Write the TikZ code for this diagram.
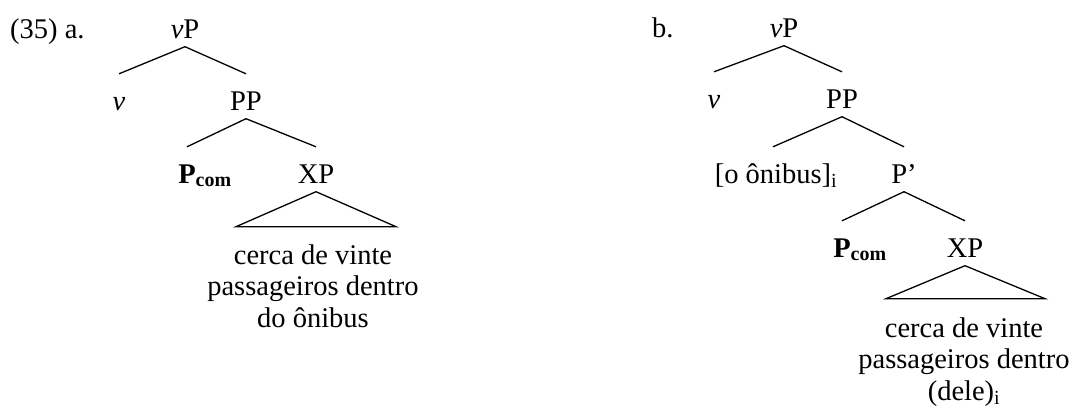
\documentclass[tikz,border=0pt]{standalone}
\usepackage{fontspec}
\setmainfont{Liberation Serif}
\begin{document}
\begin{tikzpicture}[x=1pt,y=-1pt,
  every node/.style={font=\fontsize{28.5}{32}\selectfont},
  lbl/.style={anchor=base west,inner sep=0pt},
  tn/.style={anchor=base,inner sep=0pt,text height=36pt,text depth=8.5pt},
  leaf/.style={anchor=base,inner sep=0pt,align=center,font=\fontsize{28.5}{31.5}\selectfont},
  br/.style={line width=1.3pt},
  tri/.style={line width=1.3pt,line join=miter}]
\useasboundingbox (0,0) rectangle (1077,408);
% ---- (35) a.
\node[lbl] (exa) at (10,38) {(35)~a.};
\node[tn] (vPa) at (185,38) {\textit{v}P};
\node[tn] (va) at (119,110) {\textit{v}};
\node[tn] (PPa) at (246,110) {PP};
\node[tn] (Pcoma) at (187,183) {\textbf{P}\rlap{\textbf{\textsubscript{com}}}};
\node[tn] (XPa) at (316,183) {XP};
\node[leaf] (txta) at (313,327) {cerca de vinte\\passageiros dentro\\do ônibus};
\draw[br] (vPa.south) -- (va.north);
\draw[br] (vPa.south) -- (PPa.north);
\draw[br] (PPa.south) -- (Pcoma.north);
\draw[br] (PPa.south) -- (XPa.north);
\draw[tri] (XPa.south) -- ++(-80,35) -- ++(160,0) -- cycle;
% ---- b.
\node[lbl] (exb) at (652,37) {b.};
\node[tn] (vPb) at (784,37) {\textit{v}P};
\node[tn] (vb) at (714,108) {\textit{v}};
\node[tn] (PPb) at (842,108) {PP};
\node[tn] (onib) at (773,183) {[o ônibus]\rlap{\textsubscript{i}}};
\node[tn] (Pbarb) at (904,183) {P’};
\node[tn] (Pcomb) at (842,257) {\textbf{P}\rlap{\textbf{\textsubscript{com}}}};
\node[tn] (XPb) at (965,257) {XP};
\node[leaf] (txtb) at (964,400) {cerca de vinte\\passageiros dentro\\(dele)\textsubscript{i}};
\draw[br] (vPb.south) -- (vb.north);
\draw[br] (vPb.south) -- (PPb.north);
\draw[br] (PPb.south) -- (onib.north);
\draw[br] (PPb.south) -- (Pbarb.north);
\draw[br] (Pbarb.south) -- (Pcomb.north);
\draw[br] (Pbarb.south) -- (XPb.north);
\draw[tri] (XPb.south) -- ++(-79,33) -- ++(159,0) -- cycle;
\end{tikzpicture}
\end{document}
